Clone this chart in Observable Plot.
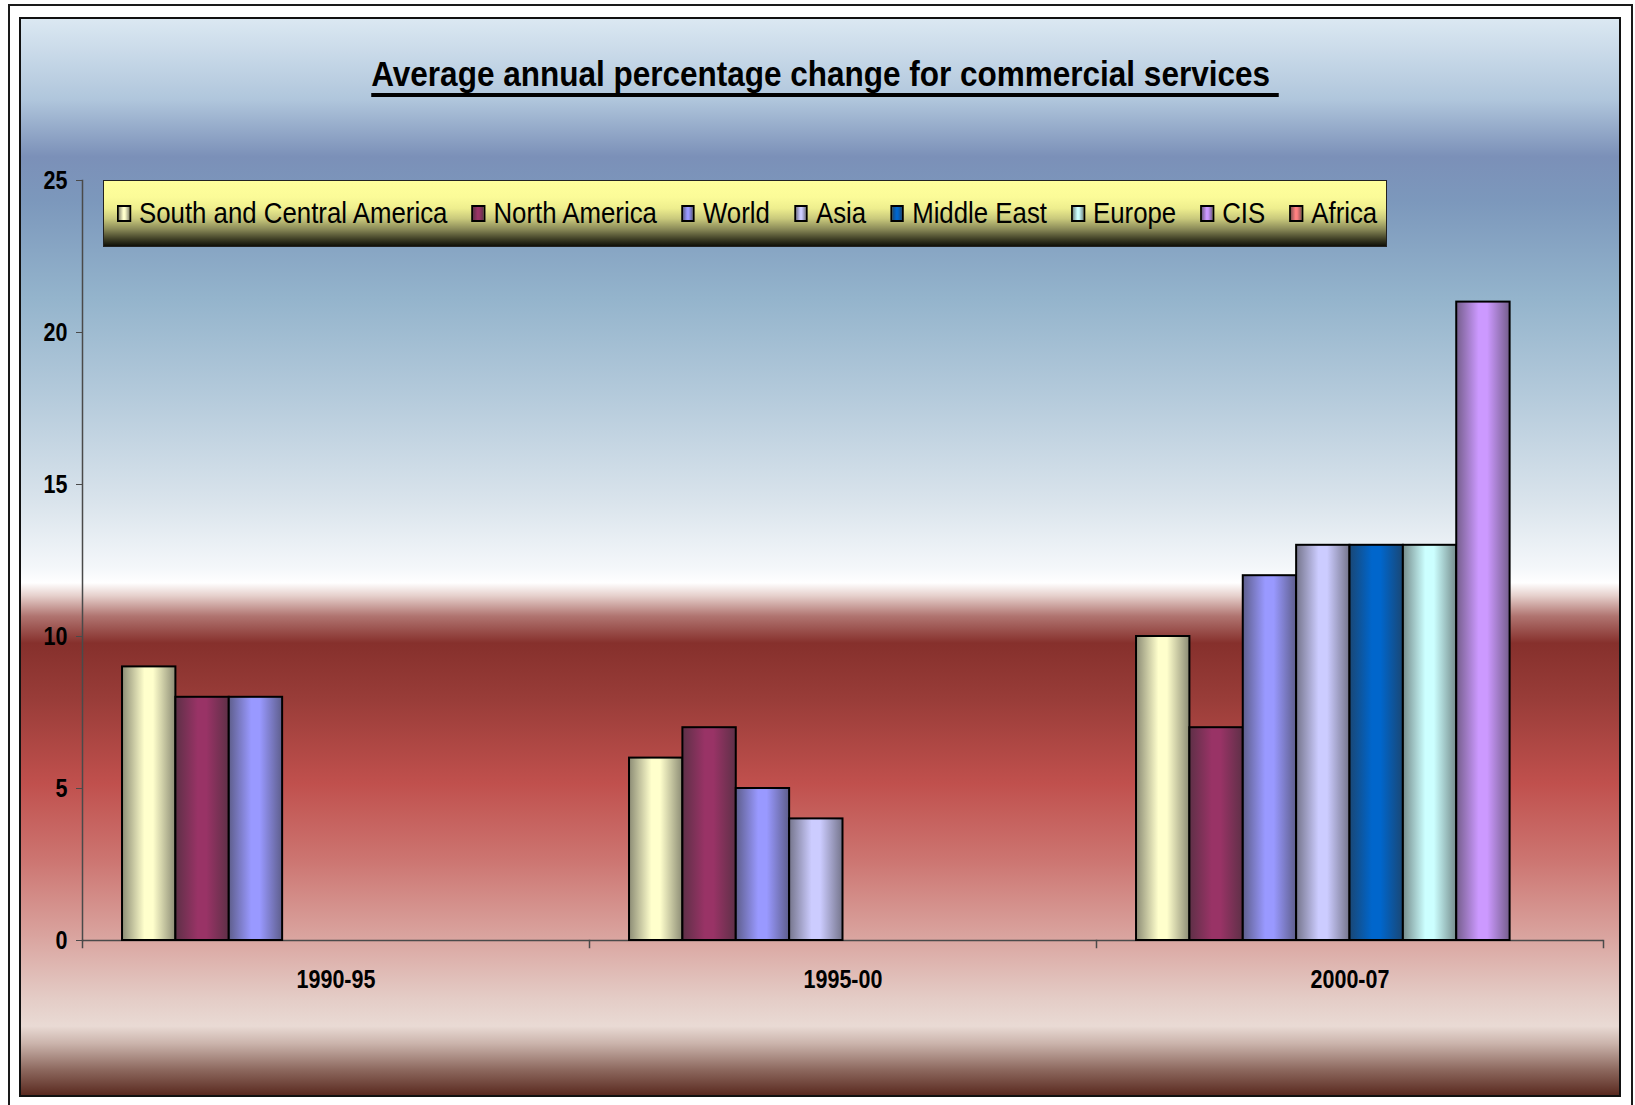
<!DOCTYPE html>
<html>
<head>
<meta charset="utf-8">
<script src="https://cdn.jsdelivr.net/npm/d3@7"></script>
<script src="https://cdn.jsdelivr.net/npm/@observablehq/plot@0.6"></script>
<style>
  html, body { margin: 0; padding: 0; width: 1635px; height: 1105px; overflow: hidden; background: #ffffff; }
  #page { position: relative; width: 1635px; height: 1105px; overflow: hidden; }
  #outer { position: absolute; left: 8px; top: 4px; width: 1625px; height: 1115px; border: 2px solid #1a1a1a; box-sizing: border-box; }
  #panel { position: absolute; left: 19px; top: 17px; width: 1602px; height: 1080px; border: 2px solid #111; box-sizing: border-box;
    background: linear-gradient(to bottom,
      #dbe8f2 0%, #b0c6dc 7.5%, #7b90b8 12.8%, #7c98bc 17%, #94b4cc 26%, #b4cadb 35%, #dae4ec 45%,
      #f4f7fa 51%, #ffffff 52.4%, #e6d0cc 53.6%, #b07470 55.5%, #86302c 58%, #983c38 63%, #c0504d 71%,
      #cc7470 78%, #d9a29d 85%, #e4ccc6 91%, #e9dad4 93.6%, #cbb4ac 95.2%, #8e6a60 97.6%, #5a2a20 100%);
  }
  #chart { position: absolute; left: 0; top: 0; }
  #title { position: absolute; left: 0; top: 56px; width: 1650px; text-align: center; white-space: pre;
    font-family: "Liberation Sans", Arial, sans-serif;
    font-size: 35px; font-weight: bold; line-height: 35px; color: #000;
    transform: scaleX(0.9); transform-origin: 825px 50%;
    text-decoration: underline; text-decoration-thickness: 4px; text-underline-offset: 7px; text-decoration-skip-ink: none; }
  #legend { position: absolute; left: 103px; top: 180px; width: 1284px; height: 67px; box-sizing: border-box; border: 1px solid #222;
    background: linear-gradient(to bottom, #ffff9c 0%, #fbfb98 25%, #eeee8e 42%, #c9c97c 58%, #8a8a58 74%, #3c3c24 90%, #101008 100%);
    padding-left: 13px; overflow: hidden; white-space: nowrap; }
  #legend .inner { display: flex; align-items: center; height: 100%;
    transform: scaleX(0.89); transform-origin: 0 50%;
    font-family: "Liberation Sans", Arial, sans-serif; font-size: 29px; color: #000; }
  .item { display: flex; align-items: center; margin-right: 27px; }
  .sw { width: 15.7px; height: 17px; border: 2px solid #000; box-sizing: border-box; margin-right: 9px; flex: none; }
</style>
</head>
<body>
<div id="page">
  <div id="outer"></div>
  <div id="panel"></div>
  <div id="chart"></div>
  <div id="title"></div>
  <div id="legend"><div class="inner"></div></div>
</div>
<script>
// ---- data ----
const titleText = "Average annual percentage change for commercial services ";
const periods = ["1990-95", "1995-00", "2000-07"];
const series = ["South and Central America", "North America", "World", "Asia", "Middle East", "Europe", "CIS", "Africa"];
const colors = ["#ffffcc", "#993366", "#9999ff", "#ccccff", "#0066cc", "#ccffff", "#cc99ff", "#ff8080"];
const values1990 = [9, 8, 8, null, null, null, null, null];
const values1995 = [6, 7, 5, 4, null, null, null, null];
const values2000 = [10, 7, 12, 13, 13, 13, 21, null];
const yTicks = [0, 5, 10, 15, 20, 25];

const FONT = '"Liberation Sans", Arial, sans-serif';

const table = [];
[values1990, values1995, values2000].forEach((vals, pi) => {
  vals.forEach((v, si) => {
    if (v != null) table.push({period: periods[pi], series: series[si], value: v, idx: si});
  });
});

const edgeOf = c => d3.interpolateRgb(c, "#2e2e2e")(0.55);

// ---- title & legend ----
document.getElementById("title").textContent = titleText;
const legend = d3.select("#legend .inner");
series.forEach((s, i) => {
  const it = legend.append("div").attr("class", "item");
  it.append("div").attr("class", "sw")
    .style("background", `linear-gradient(to right, ${edgeOf(colors[i])} 0%, ${colors[i]} 42%, ${colors[i]} 58%, ${edgeOf(colors[i])} 100%)`);
  it.append("span").text(s);
});

// ---- chart ----
const W = 1635, H = 1105, ML = 82, MR = 32, MT = 180, MB = 165;
const innerH = H - MT - MB;
const axisColor = "#4a4a4a";

const chart = Plot.plot({
  width: W, height: H,
  marginLeft: ML, marginRight: MR, marginTop: MT, marginBottom: MB,
  style: {background: "transparent", fontFamily: FONT, fontSize: "25px", fontWeight: "bold", color: "#000", overflow: "visible"},
  fx: {domain: periods, padding: 0, label: null},
  x: {domain: series, paddingInner: 0, paddingOuter: 0.75, round: false, axis: null},
  y: {domain: [0, 25], label: null},
  color: {type: "identity"},
  marks: [
    Plot.ruleY([0], {stroke: axisColor, strokeWidth: 1.5}),
    Plot.frame({anchor: "left", insetTop: innerH, insetBottom: -7, stroke: axisColor, strokeWidth: 1.5}),
    Plot.frame({anchor: "right", facetAnchor: "right", insetTop: innerH, insetBottom: -7, stroke: axisColor, strokeWidth: 1.5}),
    Plot.frame({anchor: "left", facetAnchor: "left", stroke: axisColor, strokeWidth: 1.5}),
    Plot.axisY({ticks: yTicks, tickSize: 6, tickPadding: 9, label: null, stroke: axisColor, fill: "#000", fontSize: 25, fontWeight: "bold", fontFamily: FONT}),
    Plot.axisFx({anchor: "bottom", tickSize: 0, tickPadding: 30, label: null, fill: "#000", fontSize: 25, fontWeight: "bold", fontFamily: FONT}),
    Plot.barY(table, {fx: "period", x: "series", y: "value", fill: d => `url(#grad-${d.idx})`, stroke: "#000", strokeWidth: 2})
  ]
});

const defs = d3.select(chart).insert("defs", ":first-child");
colors.forEach((c, i) => {
  const g = defs.append("linearGradient").attr("id", `grad-${i}`)
    .attr("x1", 0).attr("x2", 1).attr("y1", 0).attr("y2", 0);
  [[0, edgeOf(c)], [0.42, c], [0.58, c], [1, edgeOf(c)]].forEach(([o, col]) =>
    g.append("stop").attr("offset", o).attr("stop-color", col));
});

// narrow the axis lettering (Arial Narrow look) around each label's own anchor
d3.select(chart).selectAll("text").each(function() {
  const t = this.getAttribute("transform");
  if (t) this.setAttribute("transform", t + " scale(0.86,1)");
});

document.getElementById("chart").appendChild(chart);
</script>
</body>
</html>
